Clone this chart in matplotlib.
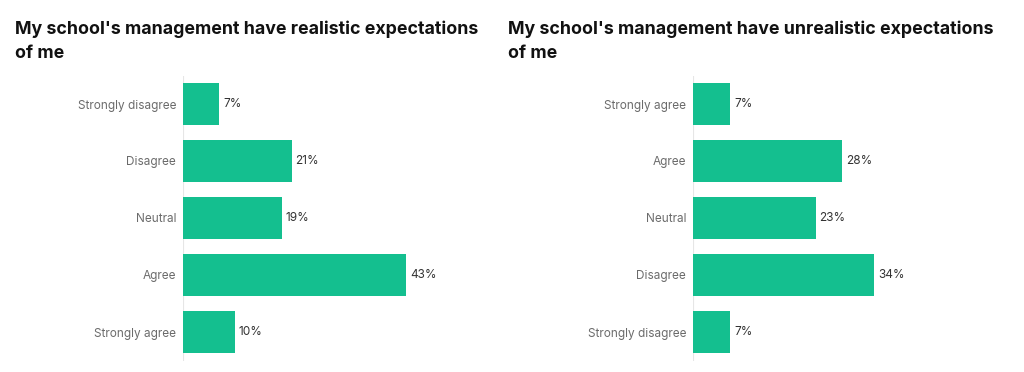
import matplotlib.pyplot as plt

# data
left_title = "My school's management have realistic expectations\nof me"
left_cats = ["Strongly disagree", "Disagree", "Neutral", "Agree", "Strongly agree"]
left_vals = [7, 21, 19, 43, 10]

right_title = "My school's management have unrealistic expectations\nof me"
right_cats = ["Strongly agree", "Agree", "Neutral", "Disagree", "Strongly disagree"]
right_vals = [7, 28, 23, 34, 7]

BAR = "#14bf8f"
W, H = 1024, 372

plt.rcParams['font.family'] = ['Inter', 'DejaVu Sans']

fig = plt.figure(figsize=(W / 100, H / 100), dpi=100)
fig.patch.set_facecolor("white")


def px_axes(x0, x1, y0, y1):
    return fig.add_axes([x0 / W, 1 - y1 / H, (x1 - x0) / W, (y1 - y0) / H])


def panel(ax, cats, vals, xmax):
    ys = range(len(cats))
    ax.barh(ys, vals, height=0.74, color=BAR, edgecolor="none")
    ax.set_ylim(len(cats) - 0.5, -0.5)
    ax.set_xlim(0, xmax)
    ax.set_yticks(list(ys))
    ax.set_yticklabels(cats, fontsize=8.5, color="#6b6b6b")
    ax.tick_params(axis="y", length=0, pad=5)
    ax.set_xticks([])
    for s in ax.spines.values():
        s.set_visible(False)
    ax.axvline(0, color="#e6e6e6", lw=0.8, zorder=0)
    for y, v in zip(ys, vals):
        ax.text(v + 0.7, y, f"{v}%", va="center", ha="left", fontsize=8.5, color="#333333")


axl = px_axes(183, 183 + 5.19 * 50, 75.5, 360.5)
panel(axl, left_cats, left_vals, 50)
axr = px_axes(693, 693 + 5.33 * 50, 75.5, 360.5)
panel(axr, right_cats, right_vals, 50)

fig.text(15 / W, 1 - 21 / H, left_title, fontsize=12.8, fontweight="bold",
         color="#111111", va="top", ha="left", linespacing=1.5)
fig.text(508 / W, 1 - 21 / H, right_title, fontsize=12.8, fontweight="bold",
         color="#111111", va="top", ha="left", linespacing=1.5)

fig.savefig("out.png", dpi=100, facecolor="white")
